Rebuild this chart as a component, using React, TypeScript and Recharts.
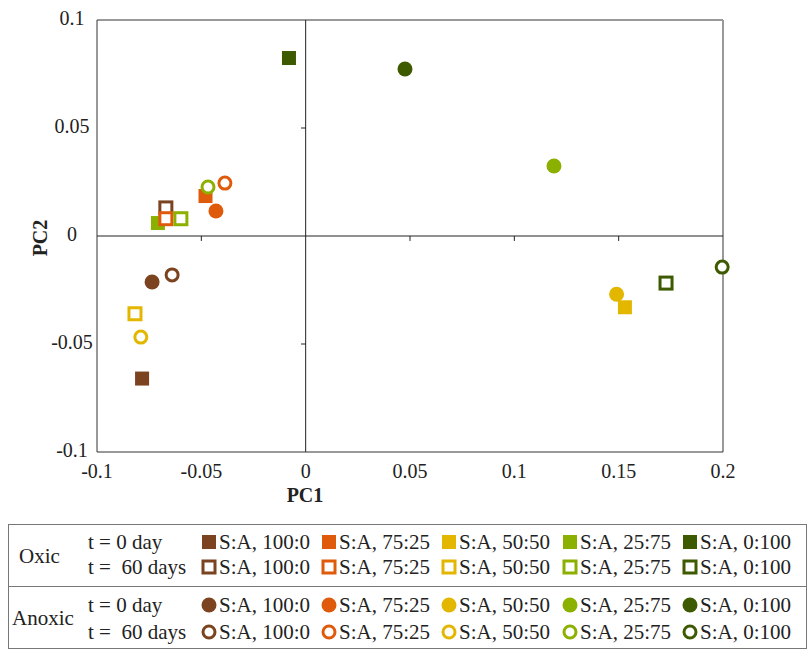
import React from "react";
import { ScatterChart, Scatter, XAxis, YAxis, ReferenceLine, Cell } from "recharts";

// ratio order: 100:0, 75:25, 50:50, 25:75, 0:100
const ratios = ["S:A, 100:0", "S:A, 75:25", "S:A, 50:50", "S:A, 25:75", "S:A, 0:100"];
const ratioColors = ["#7b4320", "#e05a0c", "#e3b700", "#8cb000", "#3e5a00"];

const oxicDay0 = [
  { x: -0.0784, y: -0.066 },
  { x: -0.048, y: 0.0185 },
  { x: 0.153, y: -0.033 },
  { x: -0.0708, y: 0.006 },
  { x: -0.008, y: 0.0824 },
];
const oxicDay60 = [
  { x: -0.067, y: 0.013 },
  { x: -0.067, y: 0.008 },
  { x: -0.0818, y: -0.036 },
  { x: -0.0598, y: 0.008 },
  { x: 0.1727, y: -0.0218 },
];
const anoxicDay0 = [
  { x: -0.0736, y: -0.0213 },
  { x: -0.043, y: 0.0116 },
  { x: 0.149, y: -0.027 },
  { x: 0.119, y: 0.0324 },
  { x: 0.0476, y: 0.0773 },
];
const anoxicDay60 = [
  { x: -0.064, y: -0.018 },
  { x: -0.0387, y: 0.0245 },
  { x: -0.079, y: -0.0468 },
  { x: -0.0468, y: 0.0227 },
  { x: 0.1996, y: -0.0144 },
];

const xTicks = [-0.1, -0.05, 0, 0.05, 0.1, 0.15, 0.2];
const yTicks = [-0.1, -0.05, 0, 0.05, 0.1];
const xMinorTicks = [-0.05, 0.05, 0.1, 0.15];
const yMinorTicks = [-0.05, 0.05];

const groups = [
  { key: "oxic0", data: oxicDay0, kind: "square", hollow: false },
  { key: "oxic60", data: oxicDay60, kind: "square", hollow: true },
  { key: "anoxic0", data: anoxicDay0, kind: "circle", hollow: false },
  { key: "anoxic60", data: anoxicDay60, kind: "circle", hollow: true },
];

const FONT = "'Liberation Serif', 'Times New Roman', serif";

function Marker({ cx, cy, color, kind, hollow }: any) {
  if (kind === "square") {
    return hollow ? (
      <rect x={cx - 6} y={cy - 6} width={12} height={12} fill="#fff" stroke={color} strokeWidth={3} />
    ) : (
      <rect x={cx - 7} y={cy - 7} width={14} height={14} fill={color} />
    );
  }
  return hollow ? (
    <circle cx={cx} cy={cy} r={6} fill="#fff" stroke={color} strokeWidth={3} />
  ) : (
    <circle cx={cx} cy={cy} r={7.5} fill={color} />
  );
}

const XTick = (p: any) => (
  <text x={p.x} y={478} textAnchor="middle" fontFamily={FONT} fontSize={20} fill="#222">
    {String(p.payload.value)}
  </text>
);
const YTick = (p: any) => (
  <text x={72} y={p.y + 4.5} textAnchor="middle" fontFamily={FONT} fontSize={20} fill="#222">
    {String(p.payload.value)}
  </text>
);

const legendRows = [
  { top: 542, label: "t = 0 day", kind: "square", hollow: false },
  { top: 567, label: "t =  60 days", kind: "square", hollow: true },
  { top: 605, label: "t = 0 day", kind: "circle", hollow: false },
  { top: 632, label: "t =  60 days", kind: "circle", hollow: true },
];
const legendCols = [209, 329, 449, 570, 690];

export default function App() {
  const txt: React.CSSProperties = {
    position: "absolute",
    fontFamily: FONT,
    fontSize: 21,
    color: "#222",
    whiteSpace: "pre",
    lineHeight: "20px",
  };
  return (
    <div style={{ position: "absolute", left: 0, top: 0, width: 808, height: 649, background: "#fff" }}>
      <ScatterChart width={808} height={500} margin={{ top: 20, right: 85, bottom: 18, left: 37 }}>
        <XAxis
          type="number"
          dataKey="x"
          domain={[-0.1, 0.2]}
          ticks={xTicks}
          tickLine={false}
          axisLine={{ stroke: "#333" }}
          tick={XTick}
          height={30}
        />
        <YAxis
          type="number"
          dataKey="y"
          domain={[-0.1, 0.1]}
          ticks={yTicks}
          tickLine={false}
          axisLine={{ stroke: "#333" }}
          tick={YTick}
          width={60}
        />
        <ReferenceLine y={0.1} stroke="#333" />
        <ReferenceLine x={0.2} stroke="#999" strokeWidth={2} />
        <ReferenceLine x={0} stroke="#222" />
        <ReferenceLine y={0} stroke="#222" />
        {xMinorTicks.map((v) => (
          <ReferenceLine key={"xt" + v} segment={[{ x: v, y: 0 }, { x: v, y: -0.0023 }]} stroke="#222" />
        ))}
        {yMinorTicks.map((v) => (
          <ReferenceLine key={"yt" + v} segment={[{ x: -0.0022, y: v }, { x: 0, y: v }]} stroke="#222" />
        ))}
        {groups.map((g) => (
          <Scatter
            key={g.key}
            data={g.data}
            isAnimationActive={false}
            shape={(p: any) => <Marker cx={p.cx} cy={p.cy} color={p.fill} kind={g.kind} hollow={g.hollow} />}
          >
            {g.data.map((_, i) => (
              <Cell key={i} fill={ratioColors[i]} />
            ))}
          </Scatter>
        ))}
      </ScatterChart>

      <div style={{ ...txt, fontSize: 20, left: 285, top: 485, width: 40, textAlign: "center", fontWeight: "bold" }}>
        PC1
      </div>
      <div
        style={{
          ...txt,
          fontSize: 20,
          left: 20,
          top: 228,
          width: 40,
          textAlign: "center",
          fontWeight: "bold",
          transform: "rotate(-90deg)",
        }}
      >
        PC2
      </div>

      <div
        style={{
          position: "absolute",
          left: 8,
          top: 524,
          width: 797,
          height: 123,
          border: "1.5px solid #777",
        }}
      />
      <div style={{ position: "absolute", left: 8, top: 586, width: 799, height: 0, borderTop: "1.5px solid #777" }} />
      <div style={{ ...txt, left: 19, top: 546 }}>Oxic</div>
      <div style={{ ...txt, left: 12, top: 608 }}>Anoxic</div>
      {legendRows.map((r, ri) => (
        <React.Fragment key={ri}>
          <div style={{ ...txt, left: 88, top: r.top - 10 }}>{r.label}</div>
          {legendCols.map((cx, ci) => (
            <React.Fragment key={ci}>
              <svg style={{ position: "absolute", left: cx - 8, top: r.top - 8 }} width={16} height={16}>
                <Marker cx={8} cy={8} color={ratioColors[ci]} kind={r.kind} hollow={r.hollow} />
              </svg>
              <div style={{ ...txt, left: cx + 10, top: r.top - 10 }}>{ratios[ci]}</div>
            </React.Fragment>
          ))}
        </React.Fragment>
      ))}
    </div>
  );
}
